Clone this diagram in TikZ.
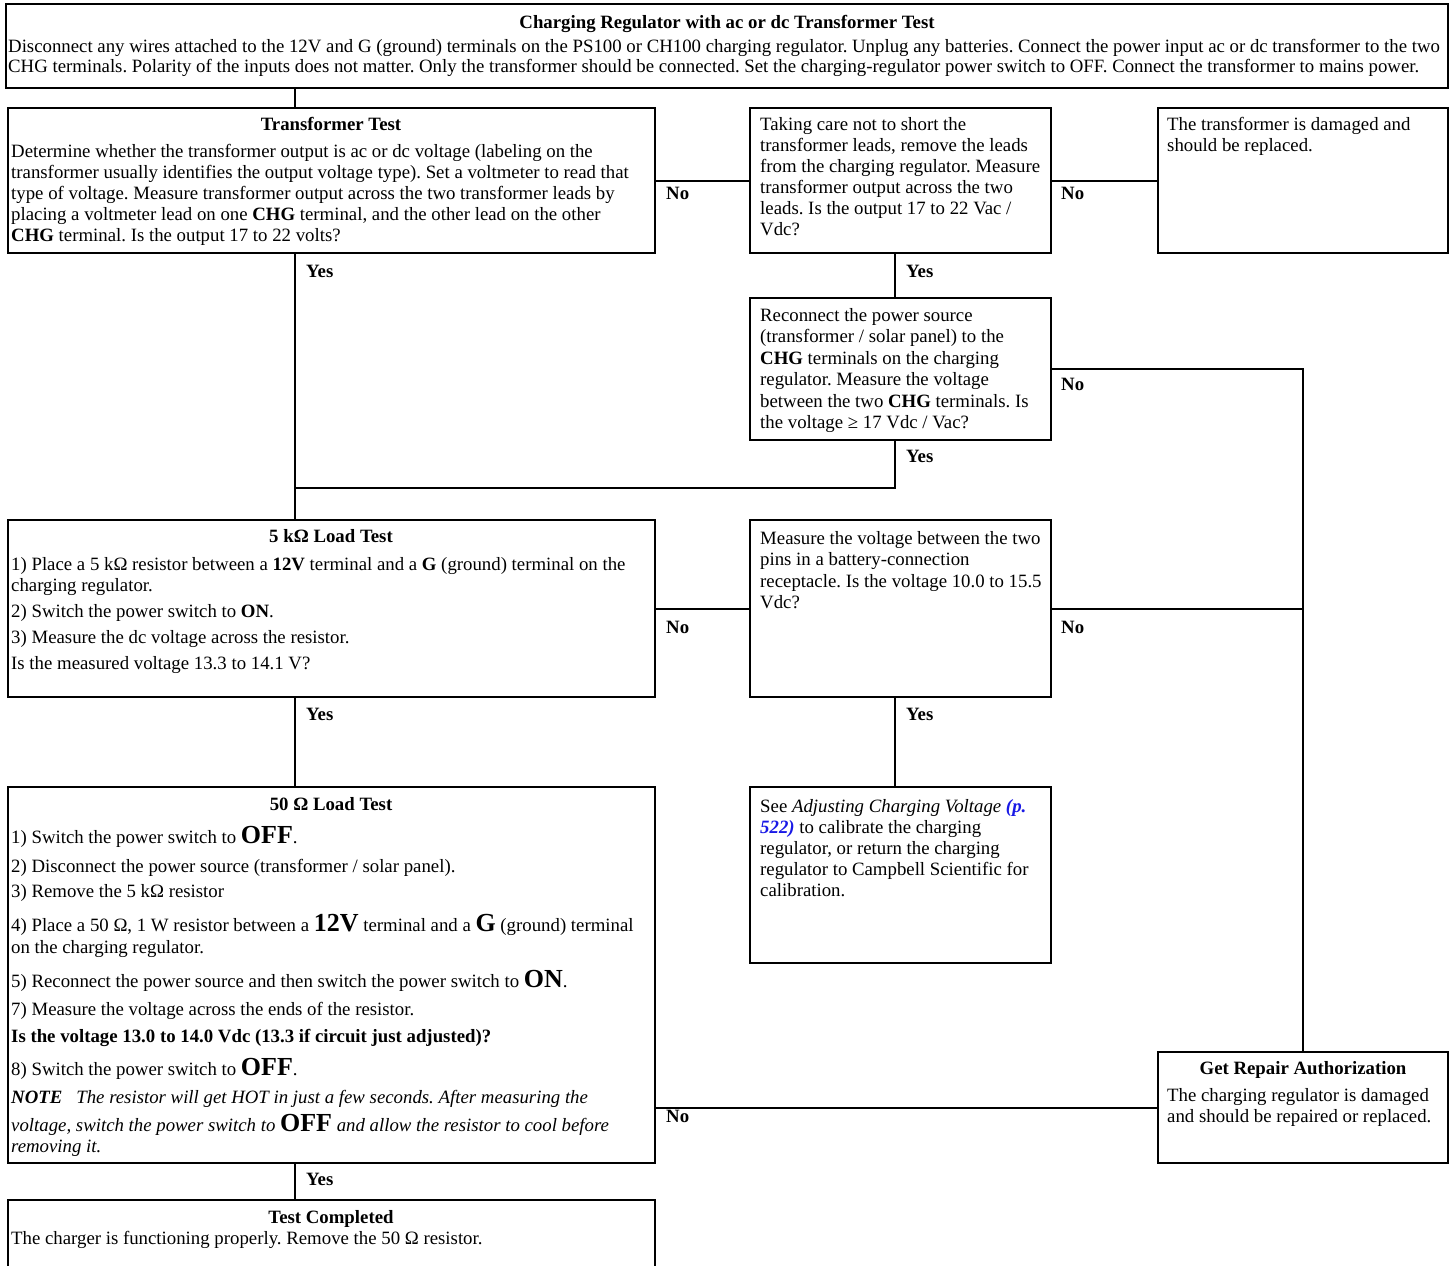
\documentclass[tikz,border=0pt]{standalone}
\usepackage{fontspec}
\setmainfont{Liberation Serif}
\usetikzlibrary{calc}
\definecolor{linkblue}{RGB}{25,25,230}
\newcommand{\bodyfont}{\fontsize{18.8}{21}\selectfont}
\newcommand{\bigb}[1]{{\fontsize{26}{26}\selectfont\bfseries\upshape #1}}
\frenchspacing
\begin{document}
\begin{tikzpicture}[x=1pt,y=-1pt,
  box/.style={draw, line width=2pt, anchor=north west, inner sep=0pt, outer sep=0pt},
  ln/.style={anchor=base west, inner sep=0pt, font=\bodyfont},
  ttl/.style={anchor=base, inner sep=0pt, font=\bodyfont\bfseries},
  lab/.style={anchor=base west, inner sep=0pt, font=\bodyfont\bfseries},
  conn/.style={line width=2pt}]
\useasboundingbox[fill=white] (0,0) rectangle (1454,1266);

% boxes
\node[box, minimum width=1442pt, minimum height=84pt] (T) at (6,4) {};
\node[box, minimum width=647pt, minimum height=145pt] (TT) at (8,108) {};
\node[box, minimum width=301pt, minimum height=145pt] (B2) at (750,108) {};
\node[box, minimum width=290pt, minimum height=145pt] (B3) at (1158,108) {};
\node[box, minimum width=301pt, minimum height=142pt] (R) at (750,298) {};
\node[box, minimum width=647pt, minimum height=177pt] (F) at (8,520) {};
\node[box, minimum width=301pt, minimum height=177pt] (M) at (750,520) {};
\node[box, minimum width=647pt, minimum height=376pt] (L) at (8,787) {};
\node[box, minimum width=301pt, minimum height=176pt] (A) at (750,787) {};
\node[box, minimum width=290pt, minimum height=111pt] (G) at (1158,1052) {};
\node[box, minimum width=647pt, minimum height=80pt] (C) at (8,1200) {};

% helper coordinates
\coordinate (xl) at (295,0);
\coordinate (xr) at (895,0);
\coordinate (j) at (295,488);

% connectors
\draw[conn] (T.south -| xl) -- (TT.north -| xl);
\draw[conn] (TT.east) -- (B2.west);
\draw[conn] (B2.east) -- (B3.west);
\draw[conn] (TT.south -| xl) -- (F.north -| xl);
\draw[conn] (B2.south -| xr) -- (R.north -| xr);
\draw[conn] (R.south -| xr) |- (j);
\draw[conn] (R.east) -| (G.north);
\draw[conn] (F.east) -- (M.west);
\draw[conn] (M.east) -- (M.east -| G.north);
\draw[conn] (F.south -| xl) -- (L.north -| xl);
\draw[conn] (M.south -| xr) -- (A.north -| xr);
\draw[conn] (G.west) -- (G.west -| L.east);
\draw[conn] (L.south -| xl) -- (C.north -| xl);

% labels
\node[lab] (no1) at (666,199) {No};
\node[lab] (no2) at (1061,199) {No};
\node[lab] (no3) at (1061,390) {No};
\node[lab] (no4) at (666,633) {No};
\node[lab] (no5) at (1061,633) {No};
\node[lab] (no6) at (666,1122) {No};
\node[lab] (yes1) at (306,277) {Yes};
\node[lab] (yes2) at (906,277) {Yes};
\node[lab] (yes3) at (906,462) {Yes};
\node[lab] (yes4) at (306,720) {Yes};
\node[lab] (yes5) at (906,720) {Yes};
\node[lab] (yes6) at (306,1185) {Yes};

% top box text
\node[ttl] (t0) at (727,28) {Charging Regulator with ac or dc Transformer Test};
\node[ln] (t1) at (8,52) {Disconnect any wires attached to the 12V and G (ground) terminals on the PS100 or CH100 charging regulator. Unplug any batteries. Connect the power input ac or dc transformer to the two};
\node[ln] (t2) at (8,72) {CHG terminals. Polarity of the inputs does not matter. Only the transformer should be connected. Set the charging-regulator power switch to OFF. Connect the transformer to mains power.};

% transformer test
\node[ttl] (tt0) at (331,130) {Transformer Test};
\node[ln] (tt1) at (11,157) {Determine whether the transformer output is ac or dc voltage (labeling on the};
\node[ln] (tt2) at (11,178) {transformer usually identifies the output voltage type). Set a voltmeter to read that};
\node[ln] (tt3) at (11,199) {type of voltage. Measure transformer output across the two transformer leads by};
\node[ln] (tt4) at (11,220) {placing a voltmeter lead on one \textbf{CHG} terminal, and the other lead on the other};
\node[ln] (tt5) at (11,241) {\textbf{CHG} terminal. Is the output 17 to 22 volts?};

% B2
\node[ln] (b21) at (760,130) {Taking care not to short the};
\node[ln] (b22) at (760,151) {transformer leads, remove the leads};
\node[ln] (b23) at (760,172) {from the charging regulator. Measure};
\node[ln] (b24) at (760,193) {transformer output across the two};
\node[ln] (b25) at (760,214) {leads. Is the output 17 to 22 Vac /};
\node[ln] (b26) at (760,235) {Vdc?};

% B3
\node[ln] (b31) at (1167,130) {The transformer is damaged and};
\node[ln] (b32) at (1167,151) {should be replaced.};

% R
\node[ln] (r1) at (760,321) {Reconnect the power source};
\node[ln] (r2) at (760,342) {(transformer / solar panel) to the};
\node[ln] (r3) at (760,364) {\textbf{CHG} terminals on the charging};
\node[ln] (r4) at (760,385) {regulator. Measure the voltage};
\node[ln] (r5) at (760,407) {between the two \textbf{CHG} terminals. Is};
\node[ln] (r6) at (760,428) {the voltage ≥ 17 Vdc / Vac?};

% F (5k)
\node[ttl] (f0) at (331,542) {5 kΩ Load Test};
\node[ln] (f1) at (11,570) {1) Place a 5 kΩ resistor between a \textbf{12V} terminal and a \textbf{G} (ground) terminal on the};
\node[ln] (f2) at (11,591) {charging regulator.};
\node[ln] (f3) at (11,617) {2) Switch the power switch to \textbf{ON}.};
\node[ln] (f4) at (11,643) {3) Measure the dc voltage across the resistor.};
\node[ln] (f5) at (11,669) {Is the measured voltage 13.3 to 14.1 V?};

% M
\node[ln] (m1) at (760,544) {Measure the voltage between the two};
\node[ln] (m2) at (760,565) {pins in a battery-connection};
\node[ln] (m3) at (760,587) {receptacle. Is the voltage 10.0 to 15.5};
\node[ln] (m4) at (760,608) {Vdc?};

% L (50 ohm)
\node[ttl] (l0) at (331,810) {50 Ω Load Test};
\node[ln] (l1) at (11,843) {1) Switch the power switch to \bigb{OFF}.};
\node[ln] (l2) at (11,872) {2) Disconnect the power source (transformer / solar panel).};
\node[ln] (l3) at (11,897) {3) Remove the 5 kΩ resistor};
\node[ln] (l4) at (11,931) {4) Place a 50 Ω, 1 W resistor between a \bigb{12V} terminal and a \bigb{G} (ground) terminal};
\node[ln] (l5) at (11,953) {on the charging regulator.};
\node[ln] (l6) at (11,987) {5) Reconnect the power source and then switch the power switch to \bigb{ON}.};
\node[ln] (l7) at (11,1015) {7) Measure the voltage across the ends of the resistor.};
\node[ln] (l8) at (11,1042) {\textbf{Is the voltage 13.0 to 14.0 Vdc (13.3 if circuit just adjusted)?}};
\node[ln] (l9) at (11,1075) {8) Switch the power switch to \bigb{OFF}.};
\node[ln] (l10) at (11,1103) {\itshape\textbf{NOTE}\hspace{14pt}The resistor will get HOT in just a few seconds. After measuring the};
\node[ln] (l11) at (11,1131) {\itshape voltage, switch the power switch to \bigb{OFF} and allow the resistor to cool before};
\node[ln] (l12) at (11,1152) {\itshape removing it.};

% A
\node[ln] (a1) at (760,812) {See \textit{Adjusting Charging Voltage} \textcolor{linkblue}{\bfseries\itshape (p.}};
\node[ln] (a2) at (760,833) {\textcolor{linkblue}{\bfseries\itshape 522)} to calibrate the charging};
\node[ln] (a3) at (760,854) {regulator, or return the charging};
\node[ln] (a4) at (760,875) {regulator to Campbell Scientific for};
\node[ln] (a5) at (760,896) {calibration.};

% G
\node[ttl] (g0) at (1303,1074) {Get Repair Authorization};
\node[ln] (g1) at (1167,1101) {The charging regulator is damaged};
\node[ln] (g2) at (1167,1122) {and should be repaired or replaced.};

% C
\node[ttl] (c0) at (331,1223) {Test Completed};
\node[ln] (c1) at (11,1244) {The charger is functioning properly. Remove the 50 Ω resistor.};
\end{tikzpicture}
\end{document}
